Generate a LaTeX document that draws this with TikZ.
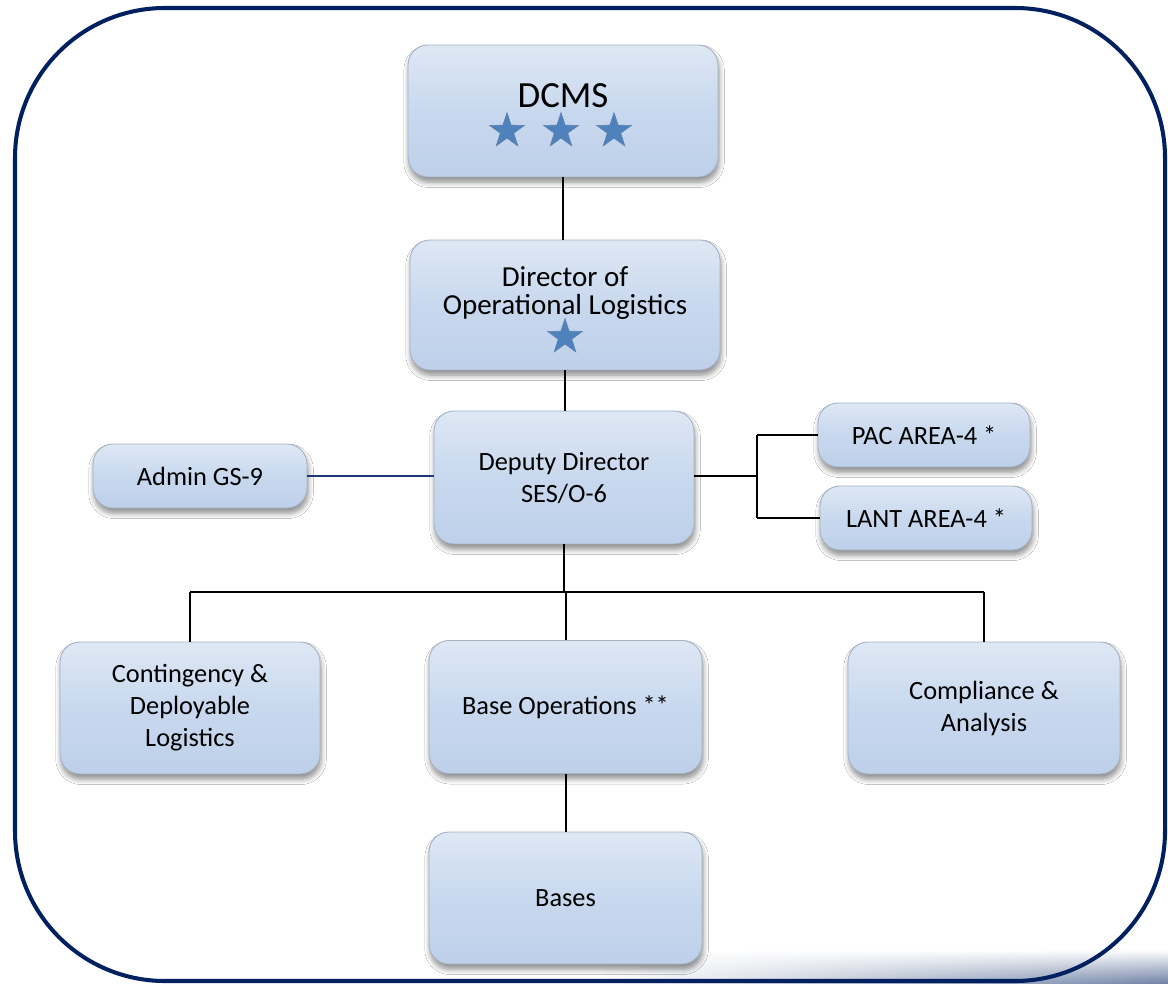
\documentclass[tikz,border=0pt]{standalone}
\usepackage{fontspec}
\setmainfont{Carlito}
\usetikzlibrary{shapes.geometric,shadows.blur,fadings,calc}
\definecolor{navy}{RGB}{0,32,96}
\definecolor{adminline}{RGB}{31,56,120}
\definecolor{boxtop}{RGB}{222,232,245}
\definecolor{boxmid}{RGB}{200,216,238}
\definecolor{boxbot}{RGB}{190,208,234}
\definecolor{boxedge}{RGB}{165,178,196}
\definecolor{starblue}{RGB}{79,129,189}
\tikzfading[name=fadeband, top color=transparent!100, bottom color=transparent!0]
\tikzset{
 orgbox/.style={rounded corners=0.4cm, draw=boxedge, line width=0.5pt,
   top color=boxtop, bottom color=boxbot, middle color=boxmid,
   blur shadow={shadow xshift=0.6pt, shadow yshift=-3pt, shadow blur steps=6, shadow blur radius=3pt, shadow opacity=45},
   inner sep=0pt, align=center, font=\fontsize{15}{18.2}\selectfont},
 rankstar/.style={star, star points=5, star point ratio=2.6, minimum size=0.74cm, inner sep=0pt,
   fill=starblue, draw=starblue!70!gray, line width=0.3pt},
 link/.style={draw=black, line width=1.15pt},
}
\begin{document}
\begin{tikzpicture}[x=0.02cm,y=-0.02cm]
\useasboundingbox (0,0) rectangle (1168,983);
\fill[white] (0,0) rectangle (1168,983);
% bottom shadow band
\shade[left color=white, right color=navy!55, path fading=fadeband] (600,950) rectangle (1168,983);
% frame
\draw[navy, line width=2.3pt, rounded corners=3cm] (15,8) rectangle (1165,981);

% boxes
\node[orgbox, minimum width=6.2cm, minimum height=2.64cm] (dcms) at (563,111) {};
\node[font=\fontsize{21}{24}\selectfont] (dcmst) at (563,96) {DCMS};
\node[rankstar] (s1) at (507,131) {};
\node[rankstar] (s2) at (561,131) {};
\node[rankstar] (s3) at (614,131) {};

\node[orgbox, minimum width=6.2cm, minimum height=2.6cm] (dir) at (565,305) {};
\node[align=center, font=\fontsize{16.5}{16}\selectfont] (dirt) at (565,293) {Director of\\Operational Logistics};
\node[rankstar] (s4) at (565,337) {};

\node[orgbox, minimum width=5.2cm, minimum height=2.66cm] (dep) at (564,477.5) {Deputy Director\\SES/O-6};
\node[orgbox, minimum width=4.28cm, minimum height=1.28cm] (admin) at (200,476) {Admin GS-9};
\node[orgbox, minimum width=4.24cm, minimum height=1.28cm] (pac) at (924,435) {PAC AREA-4 *};
\node[orgbox, minimum width=4.24cm, minimum height=1.28cm] (lant) at (926,518) {LANT AREA-4 *};

\node[orgbox, minimum width=5.2cm, minimum height=2.64cm] (cont) at (190,708) {Contingency \&\\Deployable\\Logistics};
\node[orgbox, minimum width=5.46cm, minimum height=2.66cm] (base) at (565.5,707) {Base Operations **};
\node[orgbox, minimum width=5.44cm, minimum height=2.64cm] (comp) at (984,708) {Compliance \&\\Analysis};
\node[orgbox, minimum width=5.46cm, minimum height=2.64cm] (bases) at (565.5,898) {Bases};

% connectors
\draw[link] (dcms.south) -- (dcms.south |- dir.north);
\draw[link] (dir.south) -- (dir.south |- dep.north);
\draw[adminline, line width=0.9pt] (admin.east) -- (admin.east -| dep.west);
\coordinate (rj) at (757,476);
\draw[link] (dep.east |- rj) -- (rj);
\draw[link] (pac.west -| rj) -- (lant.west -| rj);
\draw[link] (pac.west -| rj) -- (pac.west);
\draw[link] (lant.west -| rj) -- (lant.west);
\coordinate (bus) at (566,592);
\draw[link] (dep.south) -- (dep.south |- bus);
\draw[link] (cont.north |- bus) -- (comp.north |- bus);
\draw[link] (cont.north |- bus) -- (cont.north);
\draw[link] (base.north |- bus) -- (base.north);
\draw[link] (comp.north |- bus) -- (comp.north);
\draw[link] (base.south) -- (bases.north);
\end{tikzpicture}
\end{document}
